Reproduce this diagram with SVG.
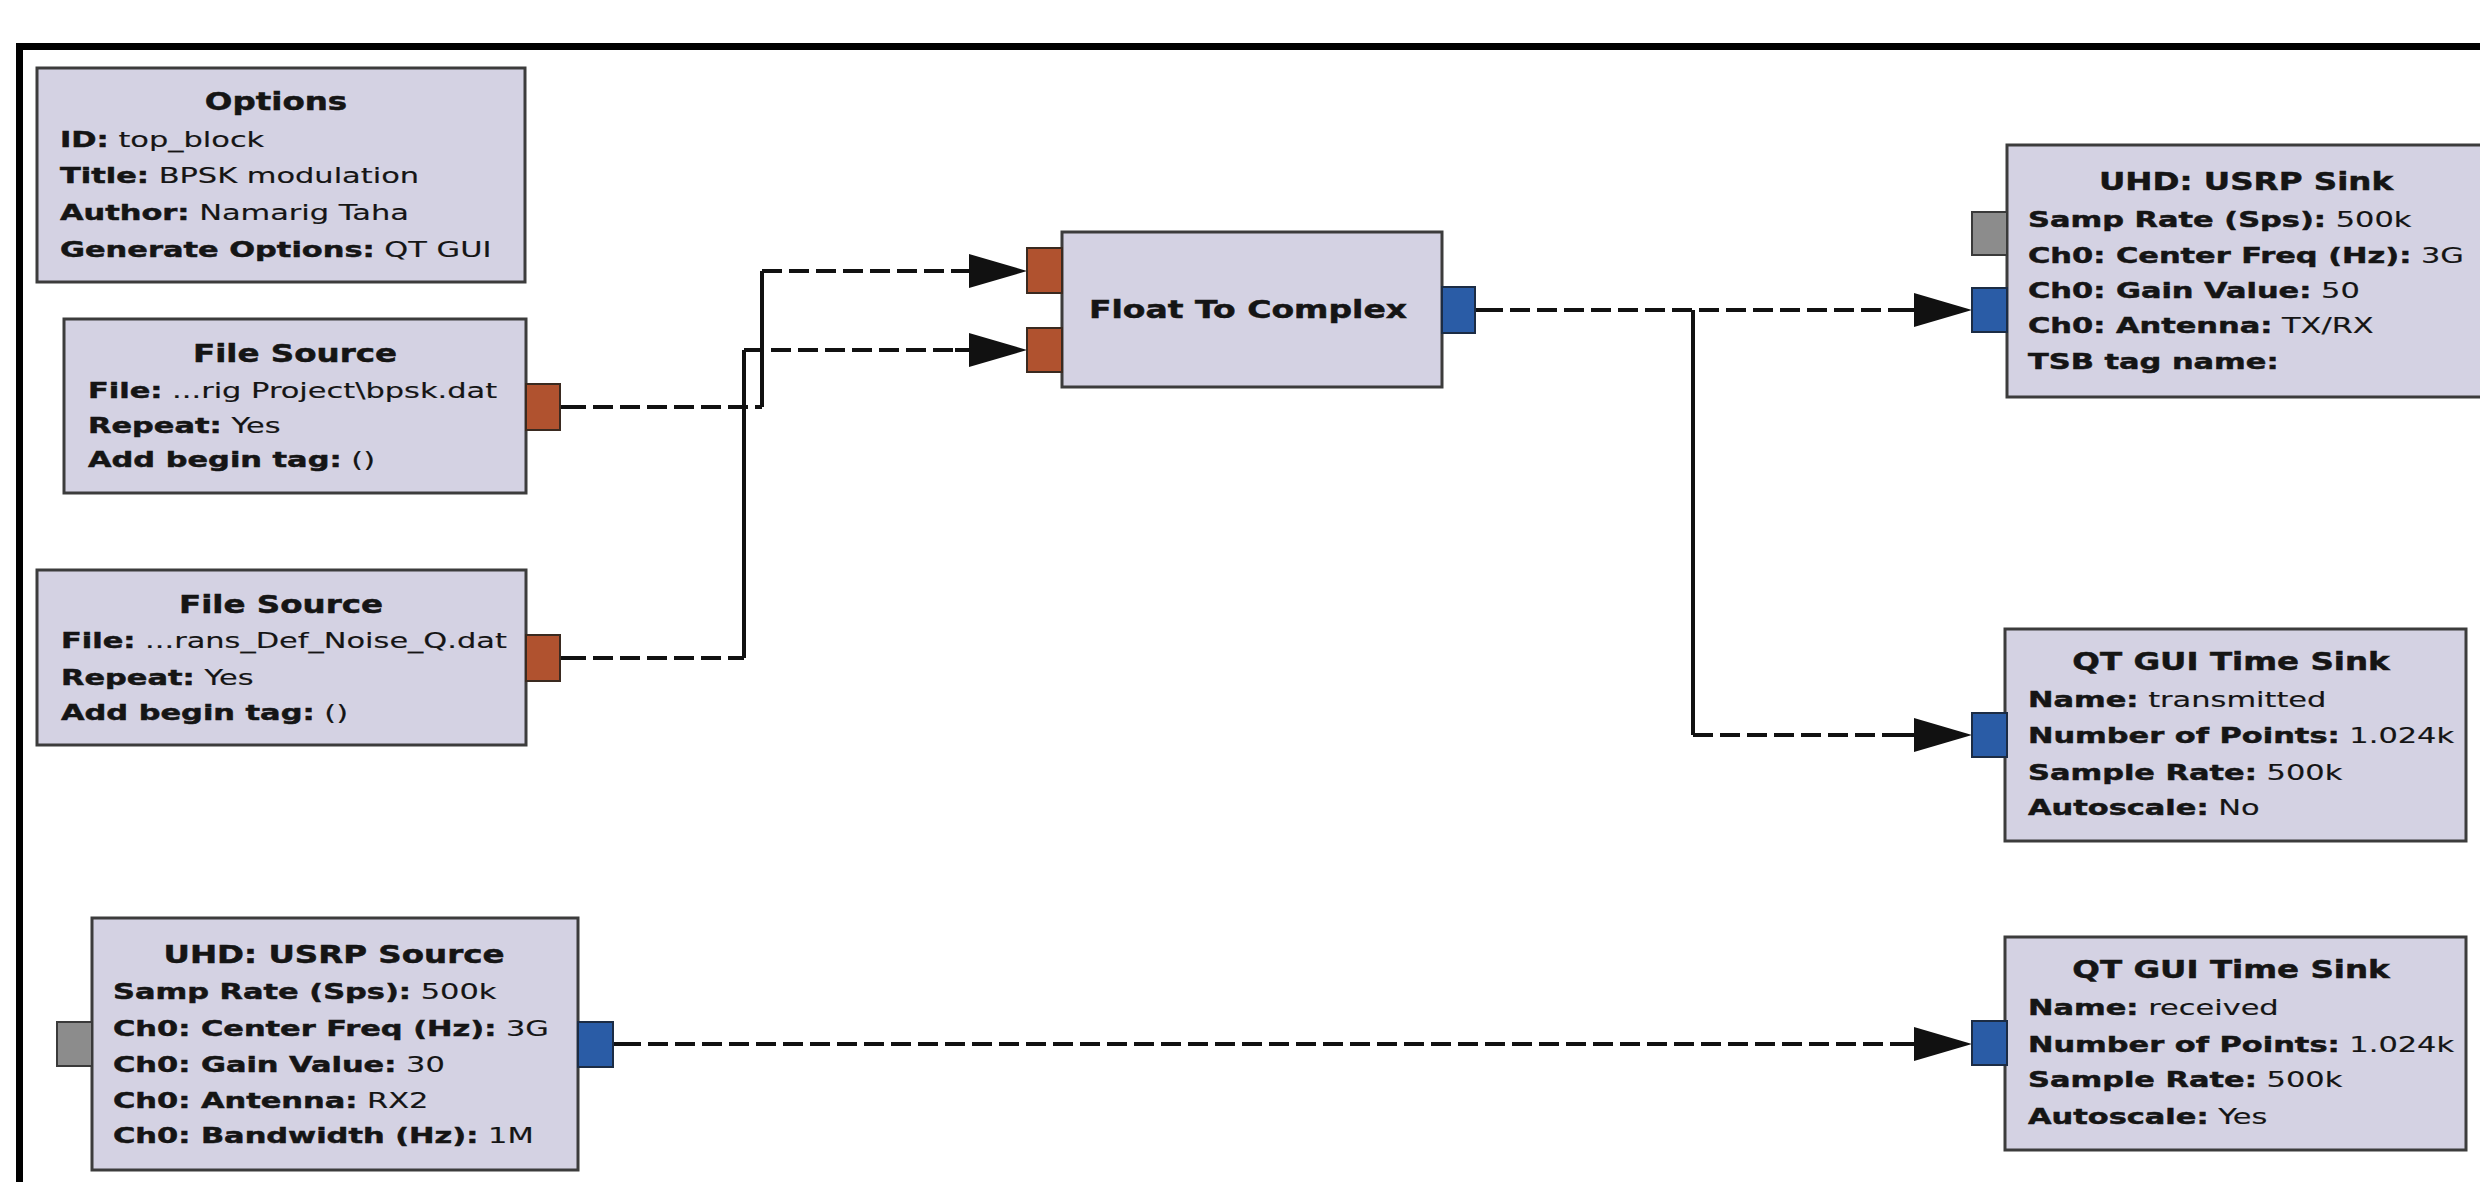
<svg xmlns="http://www.w3.org/2000/svg" width="2480" height="1182" viewBox="0 0 2480 1182">
<defs>
<style>
.box{fill:#D4D2E3;stroke:#3C3C3C;stroke-width:3}
.pb{fill:#B0522F;stroke:#3a2a20;stroke-width:2}
.pl{fill:#2A5CA6;stroke:#1c2c44;stroke-width:2}
.pg{fill:#8C8C8C;stroke:#3a3a3a;stroke-width:2}
.t{font-family:"DejaVu Sans",Verdana,sans-serif;font-size:25px;font-weight:bold;fill:#151515;stroke:#151515;stroke-width:0.5;text-anchor:middle}
.l{font-family:"DejaVu Sans",Verdana,sans-serif;font-size:20.5px;font-weight:bold;fill:#151515;stroke:#151515;stroke-width:0.45}
.v{font-weight:normal;stroke-width:0.15}
.dash{fill:none;stroke:#111;stroke-width:4;stroke-dasharray:20 7}
.solid{fill:none;stroke:#111;stroke-width:4}
</style>
<marker id="arr" markerUnits="userSpaceOnUse" markerWidth="58" markerHeight="34" refX="0" refY="17" orient="auto" viewBox="0 0 58 34"><path d="M0,0 L58,17 L0,34 Z" fill="#111"/></marker>
</defs>
<rect x="0" y="0" width="2480" height="1182" fill="#FFFFFF"/>
<path d="M19.5 1190 V46.5 H2490" fill="none" stroke="#000" stroke-width="7"/>

<g id="connectors">
<path class="solid" d="M560 407 H586"/>
<path class="dash" d="M593 407 H762"/>
<path class="solid" d="M762 407 V271"/>
<path class="dash" d="M762 271 H960"/>
<path class="solid" d="M955 271 H969" marker-end="url(#arr)"/>
<path class="solid" d="M560 658 H586"/>
<path class="dash" d="M593 658 H744"/>
<path class="solid" d="M744 658 V350"/>
<path class="dash" d="M744 350 H960"/>
<path class="solid" d="M955 350 H969" marker-end="url(#arr)"/>
<path class="solid" d="M1475 310 H1503"/>
<path class="dash" d="M1510 310 H1905"/>
<path class="solid" d="M1900 310 H1914" marker-end="url(#arr)"/>
<path class="solid" d="M1693 310 V735"/>
<path class="dash" d="M1693 735 H1905"/>
<path class="solid" d="M1900 735 H1914" marker-end="url(#arr)"/>
<path class="solid" d="M613 1044 H641"/>
<path class="dash" d="M648 1044 H1905"/>
<path class="solid" d="M1900 1044 H1914" marker-end="url(#arr)"/>
</g>

<g id="options">
<rect class="box" x="37" y="68" width="488" height="214"/>
<text class="t" transform="translate(276,110) scale(1.3,1)">Options</text>
<text class="l" transform="translate(60,147) scale(1.485,1)">ID:<tspan class="v"> top_block</tspan></text>
<text class="l" transform="translate(60,183) scale(1.485,1)">Title:<tspan class="v"> BPSK modulation</tspan></text>
<text class="l" transform="translate(60,220) scale(1.485,1)">Author:<tspan class="v"> Namarig Taha</tspan></text>
<text class="l" transform="translate(60,257) scale(1.485,1)">Generate Options:<tspan class="v"> QT GUI</tspan></text>
</g>

<g id="file_source_1">
<rect class="box" x="64" y="319" width="462" height="174"/>
<rect class="pb" x="526" y="384" width="34" height="46"/>
<text class="t" transform="translate(295,362) scale(1.3,1)">File Source</text>
<text class="l" transform="translate(88,398) scale(1.485,1)">File:<tspan class="v"> ...rig Project\bpsk.dat</tspan></text>
<text class="l" transform="translate(88,433) scale(1.485,1)">Repeat:<tspan class="v"> Yes</tspan></text>
<text class="l" transform="translate(88,467) scale(1.485,1)">Add begin tag:<tspan class="v"> ()</tspan></text>
</g>

<g id="file_source_2">
<rect class="box" x="37" y="570" width="489" height="175"/>
<rect class="pb" x="526" y="635" width="34" height="46"/>
<text class="t" transform="translate(281,613) scale(1.3,1)">File Source</text>
<text class="l" transform="translate(61,648) scale(1.485,1)">File:<tspan class="v"> ...rans_Def_Noise_Q.dat</tspan></text>
<text class="l" transform="translate(61,685) scale(1.485,1)">Repeat:<tspan class="v"> Yes</tspan></text>
<text class="l" transform="translate(61,720) scale(1.485,1)">Add begin tag:<tspan class="v"> ()</tspan></text>
</g>

<g id="usrp_source">
<rect class="box" x="92" y="918" width="486" height="252"/>
<rect class="pg" x="57" y="1022" width="35" height="44"/>
<rect class="pl" x="578" y="1022" width="35" height="45"/>
<text class="t" transform="translate(334,963) scale(1.3,1)">UHD: USRP Source</text>
<text class="l" transform="translate(113,999) scale(1.485,1)">Samp Rate (Sps):<tspan class="v"> 500k</tspan></text>
<text class="l" transform="translate(113,1036) scale(1.485,1)">Ch0: Center Freq (Hz):<tspan class="v"> 3G</tspan></text>
<text class="l" transform="translate(113,1072) scale(1.485,1)">Ch0: Gain Value:<tspan class="v"> 30</tspan></text>
<text class="l" transform="translate(113,1108) scale(1.485,1)">Ch0: Antenna:<tspan class="v"> RX2</tspan></text>
<text class="l" transform="translate(113,1143) scale(1.485,1)">Ch0: Bandwidth (Hz):<tspan class="v"> 1M</tspan></text>
</g>

<g id="float_to_complex">
<rect class="box" x="1062" y="232" width="380" height="155"/>
<rect class="pb" x="1027" y="248" width="35" height="45"/>
<rect class="pb" x="1027" y="328" width="35" height="44"/>
<rect class="pl" x="1442" y="287" width="33" height="46"/>
<text class="t" transform="translate(1248,318) scale(1.32,1)">Float To Complex</text>
</g>

<g id="usrp_sink">
<rect class="box" x="2007" y="145" width="490" height="252"/>
<rect class="pg" x="1972" y="212" width="35" height="43"/>
<rect class="pl" x="1972" y="288" width="35" height="44"/>
<text class="t" transform="translate(2246,190) scale(1.3,1)">UHD: USRP Sink</text>
<text class="l" transform="translate(2028,227) scale(1.485,1)">Samp Rate (Sps):<tspan class="v"> 500k</tspan></text>
<text class="l" transform="translate(2028,263) scale(1.485,1)">Ch0: Center Freq (Hz):<tspan class="v"> 3G</tspan></text>
<text class="l" transform="translate(2028,298) scale(1.485,1)">Ch0: Gain Value:<tspan class="v"> 50</tspan></text>
<text class="l" transform="translate(2028,333) scale(1.485,1)">Ch0: Antenna:<tspan class="v"> TX/RX</tspan></text>
<text class="l" transform="translate(2028,369) scale(1.485,1)">TSB tag name:</text>
</g>

<g id="qt_time_sink_tx">
<rect class="box" x="2005" y="629" width="461" height="212"/>
<rect class="pl" x="1972" y="713" width="35" height="44"/>
<text class="t" transform="translate(2231,670) scale(1.3,1)">QT GUI Time Sink</text>
<text class="l" transform="translate(2028,707) scale(1.485,1)">Name:<tspan class="v"> transmitted</tspan></text>
<text class="l" transform="translate(2028,743) scale(1.485,1)">Number of Points:<tspan class="v"> 1.024k</tspan></text>
<text class="l" transform="translate(2028,780) scale(1.485,1)">Sample Rate:<tspan class="v"> 500k</tspan></text>
<text class="l" transform="translate(2028,815) scale(1.485,1)">Autoscale:<tspan class="v"> No</tspan></text>
</g>

<g id="qt_time_sink_rx">
<rect class="box" x="2005" y="937" width="461" height="213"/>
<rect class="pl" x="1972" y="1021" width="35" height="44"/>
<text class="t" transform="translate(2231,978) scale(1.3,1)">QT GUI Time Sink</text>
<text class="l" transform="translate(2028,1015) scale(1.485,1)">Name:<tspan class="v"> received</tspan></text>
<text class="l" transform="translate(2028,1052) scale(1.485,1)">Number of Points:<tspan class="v"> 1.024k</tspan></text>
<text class="l" transform="translate(2028,1087) scale(1.485,1)">Sample Rate:<tspan class="v"> 500k</tspan></text>
<text class="l" transform="translate(2028,1124) scale(1.485,1)">Autoscale:<tspan class="v"> Yes</tspan></text>
</g>
</svg>
